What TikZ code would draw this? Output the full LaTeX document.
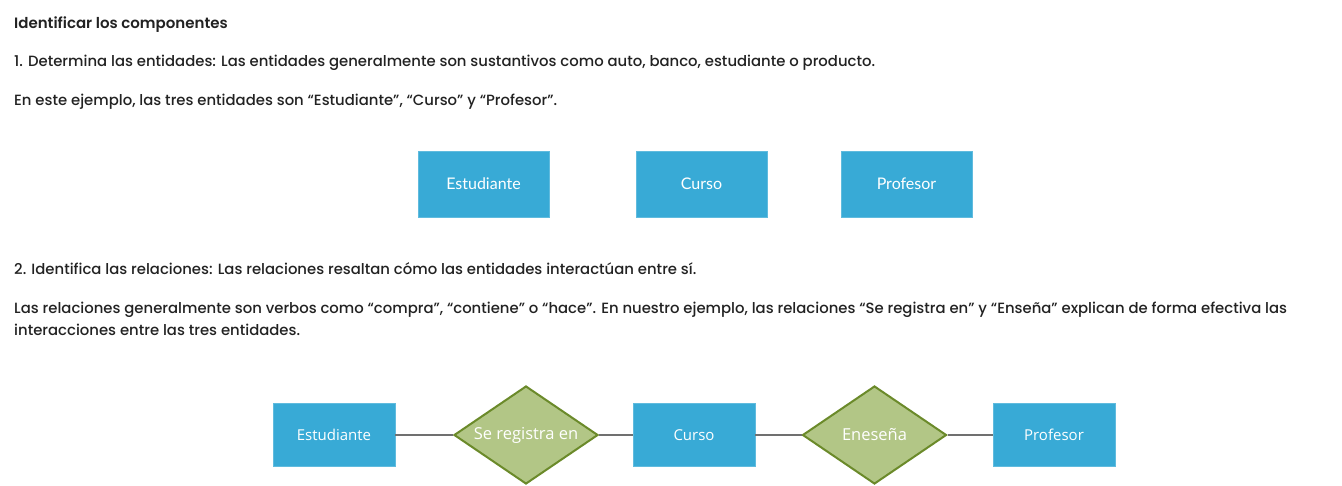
\documentclass[tikz,border=0pt]{standalone}
\usepackage{fontspec}
\setmainfont{Poppins}[UprightFont={* Medium}, BoldFont={* SemiBold}]
\newfontfamily\boxfont{Lato}
\newfontfamily\diagfont{Open Sans}
\usetikzlibrary{shapes.geometric}
\definecolor{entblue}{HTML}{38AAD6}
\definecolor{relfill}{HTML}{B2C686}
\definecolor{reldraw}{HTML}{6B8A2A}
\definecolor{linegray}{HTML}{707070}
\definecolor{txt}{HTML}{222222}
\tikzset{
  para/.style={anchor=base west, inner sep=0pt, text=txt, font=\fontsize{14.85}{17}\selectfont},
  entbox/.style={draw=entblue!80!white, line width=0.8pt, fill=entblue, text=white, inner sep=0pt, minimum width=131pt, minimum height=66pt, font=\boxfont\fontsize{16}{19}\selectfont},
  entboxb/.style={draw=entblue!80!white, line width=0.8pt, fill=entblue, text=white, inner sep=0pt, minimum width=122pt, minimum height=63pt, font=\diagfont\fontsize{15}{18}\selectfont},
  relshape/.style={diamond, draw=reldraw, line width=2pt, fill=relfill, text=white, inner sep=0pt, minimum width=144pt, minimum height=98pt, aspect=1.47, font=\diagfont\fontsize{16.5}{19}\selectfont},
  conn/.style={draw=linegray, line width=2pt}
}
\begin{document}
\begin{tikzpicture}[x=1pt,y=-1pt]
\useasboundingbox (0,0) rectangle (1342,485);
\fill[white] (0,0) rectangle (1342,485);
\node[para, font=\bfseries\fontsize{15}{17}\selectfont] (t0) at (14,28) {Identificar los componentes};
\node[para] (t1) at (14,66) {1. Determina las entidades: Las entidades generalmente son sustantivos como auto, banco, estudiante o producto.};
\node[para] (t2) at (14,105) {En este ejemplo, las tres entidades son “Estudiante”, “Curso” y “Profesor”.};
\node[entbox] (e1) at (483.5,184) {Estudiante};
\node[entbox] (e2) at (701.5,184) {Curso};
\node[entbox] (e3) at (906.5,184) {Profesor};
\node[para] (t3) at (14,274) {2. Identifica las relaciones: Las relaciones resaltan cómo las entidades interactúan entre sí.};
\node[para] (t4) at (14,313) {Las relaciones generalmente son verbos como “compra”, “contiene” o “hace”. En nuestro ejemplo, las relaciones “Se registra en” y “Enseña” explican de forma efectiva las};
\node[para] (t5) at (14,335) {interacciones entre las tres entidades.};
\node[entboxb] (b1) at (334,435) {Estudiante};
\node[relshape] (r1) at (526,435) {Se registra en};
\node[entboxb] (b2) at (694,435) {Curso};
\node[relshape] (r2) at (874.5,435) {Eneseña};
\node[entboxb] (b3) at (1054,435) {Profesor};
\draw[conn] (b1.east) -- (r1.west);
\draw[conn] (r1.east) -- (b2.west);
\draw[conn] (b2.east) -- (r2.west);
\draw[conn] (r2.east) -- (b3.west);
\end{tikzpicture}
\end{document}
